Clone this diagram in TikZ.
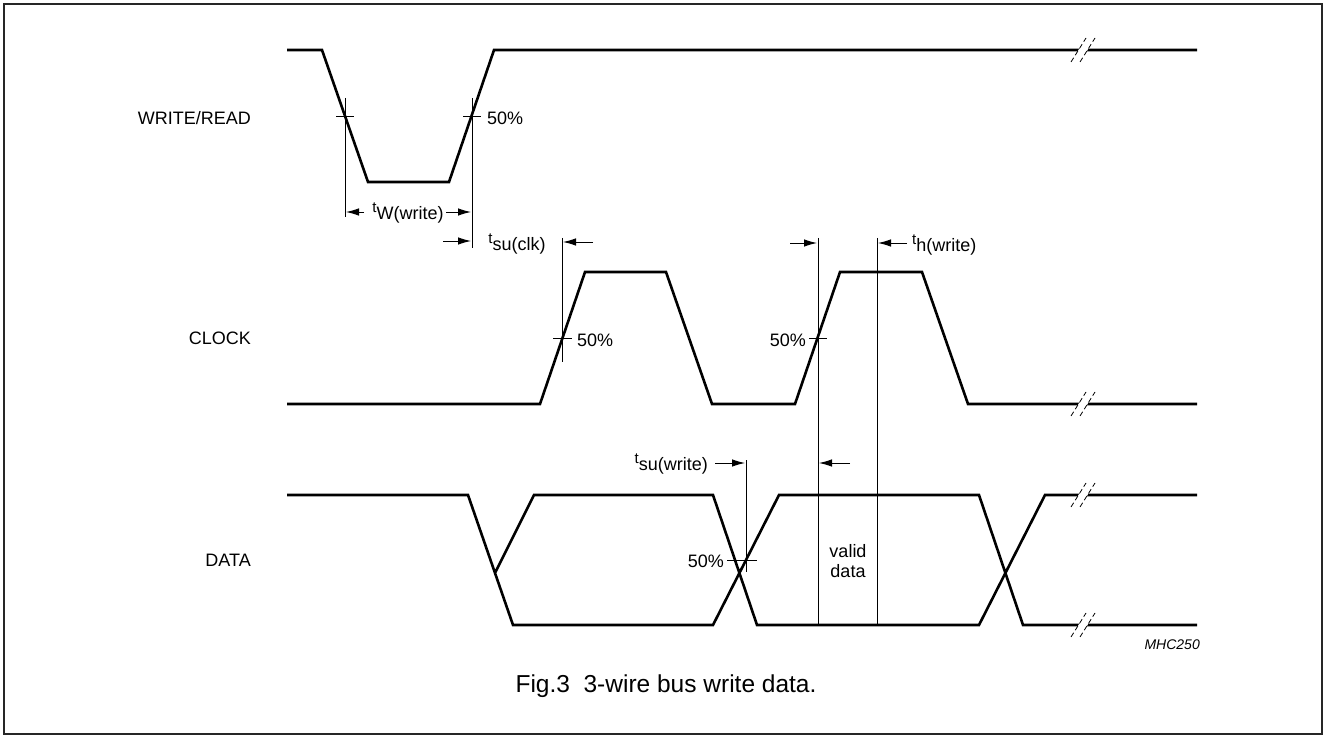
\documentclass[tikz,border=0pt]{standalone}
\usepackage{fontspec}
\setmainfont{Liberation Sans}
\usetikzlibrary{arrows.meta}

% small raised t in front of a timing name
\newcommand{\tname}[1]{\raisebox{7pt}{\fontsize{15}{15}\selectfont t}#1}

\tikzset{
  wave/.style={line width=2.6pt},
  guide/.style={line width=0.9pt},
  dimarrow/.style={guide, -{Latex[length=13pt,width=7.5pt]}},
  lbl/.style={font=\fontsize{18}{21}\selectfont, inner sep=0pt},
  brk/.pic={
    \fill[white] (-6.4,3) -- (-2.6,-3) -- (6.4,-3) -- (2.6,3) -- cycle;
    \draw[line width=0.8pt, dash pattern=on 5pt off 3pt]
      (-12,12) -- (3,-12) (-3,12) -- (12,-12);
  }
}

\begin{document}
\begin{tikzpicture}[x=1pt, y=-1pt]
    \useasboundingbox (0,0) rectangle (1326,738);
    \draw[line width=1.6pt, black!85] (4,4) rectangle (1322,734);

    % signal names
    \node[lbl, anchor=east] (wrname) at (251,118) {WRITE/READ};
    \node[lbl, anchor=east] (clkname) at (251,338) {CLOCK};
    \node[lbl, anchor=east] (dataname) at (251,560) {DATA};

    % waveforms
    \draw[wave] 
      (287,50) -- (322,50) -- (368,182) -- (449,182) -- (494,50) -- (1197,50)
    ;
    \draw[wave] 
      (287,404) -- (540,404) -- (585,272) -- (666,272) -- (712,404)
      -- (795,404) -- (840,272) -- (922,272) -- (968,404) -- (1197,404)
    ;
    \draw[wave] 
      (287,495) -- (468,495) -- (513,625) -- (713,625) -- (779,495)
      -- (979,495) -- (1023,625) -- (1197,625)
      (495,573) -- (534,495) -- (713,495) -- (757,625) -- (979,625)
      -- (1045,495) -- (1197,495)
    ;
    \foreach \y in {50,404,495,625}
      \pic at (1083,\y) {brk};

    % write pulse width
    \draw[guide] 
      (345,98) -- (345,217)
      (472,98) -- (472,248)
      (336,116) -- (354,116)
      (463,116) -- (481,116)
    ;
    \node[lbl, anchor=west] (wrpct) at (487,118) {50\%};
    \node[lbl] (twr) at (408,213) {\tname{W(write)}};
    \draw[dimarrow] (364,212) -- (346,212);
    \draw[dimarrow] (446,212) -- (471,212);

    % clock set-up
    \draw[guide] 
      (562,238) -- (562,362)
      (553,338) -- (572,338)
    ;
    \node[lbl, anchor=west] (clkpct) at (577,340) {50\%};
    \draw[dimarrow] (443,241) -- (471,241);
    \draw[dimarrow] (593,242) -- (563,242);
    \node[lbl] (tsuclk) at (517,244) {\tname{su(clk)}};

    % hold and data set-up
    \draw[guide] 
      (818,238) -- (818,625)
      (877,238) -- (877,625)
      (809,338) -- (827,338)
      (746,460) -- (746,572)
      (727,560) -- (757,560)
    ;
    \node[lbl, anchor=east] (clkpctb) at (806,340) {50\%};
    \draw[dimarrow] (790,243) -- (817,243);
    \draw[dimarrow] (907,243) -- (878,243);
    \node[lbl, anchor=west] (thw) at (912,245) {\tname{h(write)}};

    \node[lbl, anchor=east] (datapct) at (724,561) {50\%};
    \node[lbl, anchor=east] (tsuw) at (708,464) {\tname{su(write)}};
    \draw[dimarrow] (715,463) -- (745,463);
    \draw[dimarrow] (850,463) -- (819,463);
    \node[lbl, align=center, font=\fontsize{18}{20}\selectfont] (valid) at (848,561) {valid\\data};

    % figure code and caption
    \node[anchor=east, inner sep=0pt, font=\fontsize{14}{16}\selectfont\itshape] (figcode) at (1200,645) {MHC250};
    \node[inner sep=0pt, font=\fontsize{24.5}{28}\selectfont] (caption) at (666,686) {Fig.3\ \ 3-wire bus write data.};
  \end{tikzpicture}
\end{document}
